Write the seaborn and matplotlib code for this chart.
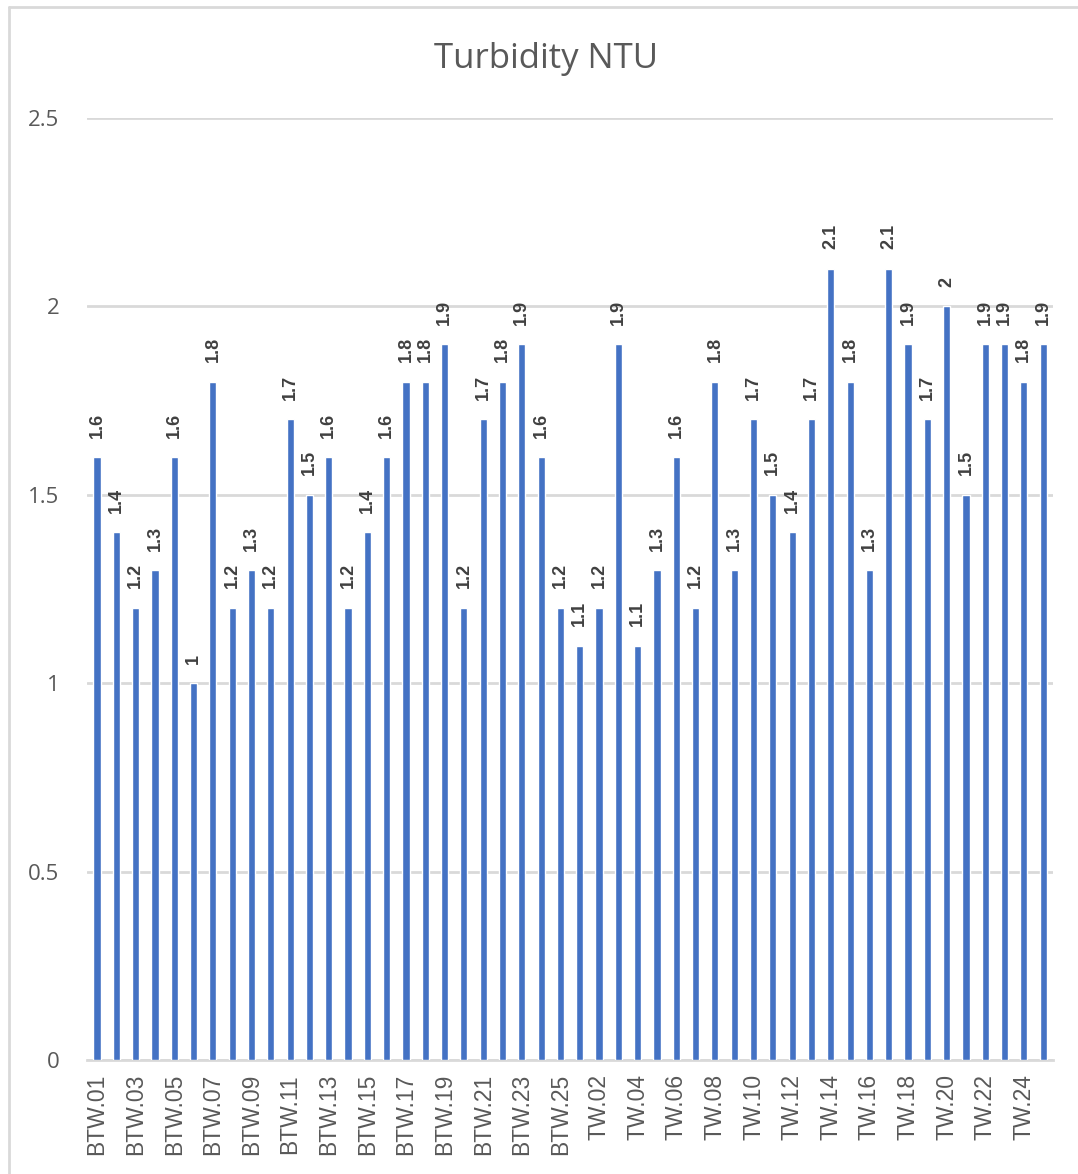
import numpy as np
import pandas as pd
import seaborn as sns
import matplotlib.pyplot as plt
from matplotlib.lines import Line2D

# sample sites and turbidity readings (NTU)
sites = [f'BTW.{i:02d}' for i in range(1, 26)] + [f'TW.{i:02d}' for i in range(1, 26)]
turbidity = [
    1.6, 1.4, 1.2, 1.3, 1.6, 1.0, 1.8, 1.2, 1.3, 1.2,
    1.7, 1.5, 1.6, 1.2, 1.4, 1.6, 1.8, 1.8, 1.9, 1.2,
    1.7, 1.8, 1.9, 1.6, 1.2,
    1.1, 1.2, 1.9, 1.1, 1.3, 1.6, 1.2, 1.8, 1.3, 1.7,
    1.5, 1.4, 1.7, 2.1, 1.8, 1.3, 2.1, 1.9, 1.7, 2.0,
    1.5, 1.9, 1.9, 1.8, 1.9,
]
y_ticks = [0, 0.5, 1, 1.5, 2, 2.5]

bar_color = '#4472C4'
grid_color = '#D9D9D9'
text_color = '#595959'

sns.set_theme(style='white')
plt.rcParams['font.family'] = ['Open Sans', 'DejaVu Sans']

df = pd.DataFrame({'site': sites, 'ntu': turbidity})

fig = plt.figure(figsize=(10.78, 11.74), dpi=100)
ax = fig.add_axes([0.0807, 0.0971, 0.8963, 0.8024])

sns.barplot(data=df, x='site', y='ntu', color=bar_color, saturation=1,
            width=0.37, ax=ax, zorder=3)

ax.set_ylim(0, 2.5)
ax.set_xlim(-0.52, len(sites) - 0.48)
ax.set_yticks(y_ticks)
ax.set_yticklabels([f'{v:g}' for v in y_ticks], fontsize=16, color=text_color)
ax.yaxis.grid(True, color=grid_color, linewidth=2, zorder=0)
ax.set_axisbelow(True)

# only every other site gets a label
ax.set_xticks(range(0, len(sites), 2))
ax.set_xticklabels(sites[::2], rotation=90, fontsize=16.5, color=text_color,
                   family=['Liberation Sans', 'DejaVu Sans'])
ax.tick_params(axis='both', length=0)
ax.tick_params(axis='y', pad=20)
ax.tick_params(axis='x', pad=10)
ax.set_xlabel('')
ax.set_ylabel('')

for side in ['top', 'right', 'left']:
    ax.spines[side].set_visible(False)
ax.spines['bottom'].set_color(grid_color)
ax.spines['bottom'].set_linewidth(2)

ax.bar_label(ax.containers[0], labels=[f'{v:g}' for v in turbidity],
             rotation=90, padding=14, fontsize=13, fontweight='bold',
             color='#404040', family=['Liberation Sans', 'DejaVu Sans'])

fig.text(0.5065, 0.950, 'Turbidity NTU', ha='center', va='center',
         fontsize=25, color=text_color)

# chart border (only top and left edges show in the screenshot)
fig.add_artist(Line2D([9 / 1078, 1], [1 - 7 / 1174, 1 - 7 / 1174],
                      transform=fig.transFigure, color=grid_color, lw=2))
fig.add_artist(Line2D([9 / 1078, 9 / 1078], [0, 1 - 7 / 1174],
                      transform=fig.transFigure, color=grid_color, lw=2))

plt.savefig('out.png', dpi=100)
plt.close()
